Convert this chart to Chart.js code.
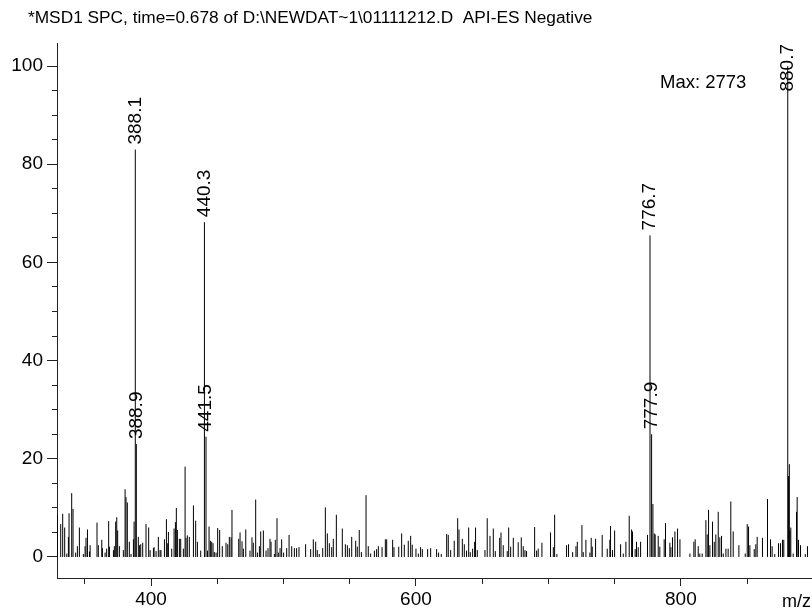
<!DOCTYPE html>
<html>
<head>
<meta charset="utf-8">
<script src="https://cdn.jsdelivr.net/npm/chart.js@4.4.1/dist/chart.umd.min.js"></script>
<style>
  html, body { margin: 0; padding: 0; background: #fff; }
  #wrap { width: 812px; height: 613px; }
</style>
</head>
<body>
<div id="wrap"><canvas id="c" width="812" height="613"></canvas></div>
<script>
// ---- data ----
const titleText = "*MSD1 SPC, time=0.678 of D:\\NEWDAT~1\\01111212.D  API-ES Negative";
const maxText = "Max: 2773";
const xAxisLabel = "m/z";

const xMajorTicks = [400, 600, 800];
const yMajorTicks = [0, 20, 40, 60, 80, 100];

// labelled peaks (m/z, relative intensity %)
const mainMz = [388.1, 388.9, 440.3, 441.5, 776.7, 777.9, 880.7];
const mainIntensity = [83.0, 23.0, 68.2, 24.5, 65.5, 25.0, 100];
const mainLabels = ["388.1", "388.9", "440.3", "441.5", "776.7", "777.9", "880.7"];

// minor peaks [m/z, relative intensity %]
const minorPeaks = [
  [329.3,8.6],[331.8,6.7],[333.3,8.8],[334.8,6.0],[336.4,0.7],[337.6,4.1],[338.1,8.9],[340.1,13.0],[341.1,9.8],[343.1,0.9],
  [344.4,2.2],[345.9,6.0],[348.9,0.6],[350.2,2.2],[350.9,3.9],[352.0,5.6],[353.5,1.1],[354.0,2.4],[359.2,7.0],[360.2,2.4],
  [362.8,3.5],[363.3,1.8],[365.3,0.9],[366.5,1.7],[368.0,7.3],[368.6,2.1],[371.6,1.4],[372.3,2.2],[373.3,7.2],[374.1,8.1],
  [374.8,5.4],[376.1,2.2],[379.1,1.4],[380.4,13.8],[381.1,12.2],[382.1,11.1],[383.6,3.1],[384.9,0.6],[386.7,3.6],[387.2,7.2],
  [390.4,4.1],[391.2,2.4],[392.2,2.6],[393.7,2.9],[396.2,6.7],[398.2,6.0],[399.3,1.4],[401.8,1.8],[402.3,2.0],[403.8,1.2],
  [405.5,4.1],[406.8,1.4],[407.5,1.4],[410.1,3.6],[411.6,7.7],[412.6,2.8],[413.1,5.1],[415.6,1.7],[417.4,5.8],[418.4,7.1],
  [419.1,10.0],[419.9,5.5],[421.4,3.7],[422.4,3.7],[424.4,1.7],[425.7,18.4],[426.4,3.9],[427.4,4.4],[428.9,4.1],[432.0,10.5],
  [433.7,7.4],[435.0,3.1],[437.5,1.3],[442.6,1.3],[443.8,6.2],[444.8,3.3],[445.8,3.1],[446.8,2.8],[447.8,1.0],[449.1,0.9],
  [450.3,5.9],[451.8,5.5],[453.8,2.2],[456.6,2.9],[457.9,2.6],[459.1,4.1],[460.4,4.0],[461.1,9.6],[466.2,3.7],[467.2,5.0],
  [468.7,3.2],[469.7,1.7],[471.5,5.6],
  [474.7,1.3],[476.2,4.0],[477.2,2.9],[479.0,11.7],[480.3,0.9],[481.8,2.2],[482.8,5.2],[484.8,5.4],[486.8,1.3],[488.3,1.8],
  [489.8,3.7],[490.6,3.1],[493.1,0.6],[493.8,3.5],[495.1,7.9],[496.1,0.9],[497.4,1.8],[498.6,3.6],[500.1,0.9],[502.4,1.8],
  [504.2,4.5],[506.2,2.2],[508.2,1.8],[509.9,1.8],[511.7,2.0],[516.7,2.6],[520.5,1.6],[522.5,3.6],[524.3,3.1],[525.5,1.4],
  [527.0,0.6],[529.6,1.8],[531.6,10.1],[533.1,4.8],[534.6,2.8],[536.4,2.0],[537.6,3.7],[539.9,8.6],[544.4,5.8],[546.7,2.6],
  [548.2,2.4],[549.7,1.8],[551.5,4.1],[554.5,3.3],[555.7,2.1],[557.2,5.5],[558.8,1.0],[562.3,12.6],[564.0,2.2],[565.8,0.7],
  [568.6,1.3],[570.3,1.6],[571.6,2.2],[574.4,2.0],[576.9,3.6],[577.9,3.6],[582.4,3.5],[583.4,2.0],[587.0,2.1],[589.2,4.8],
  [591.2,2.5],[594.2,3.3],[596.0,4.3],[597.2,2.5],[600.0,1.7],[601.8,0.7],[603.5,2.0],[604.8,1.6],[608.8,1.6],[611.1,1.8],
  [615.6,1.6],
  [617.1,0.9],[619.1,0.6],[623.2,4.7],[624.4,4.5],[626.2,1.4],[628.9,3.3],[631.5,7.9],[632.5,5.6],[635.0,3.7],[636.5,2.6],
  [638.2,1.3],[639.8,6.0],[641.0,1.0],[642.8,1.7],[644.3,3.1],[645.0,6.0],[646.3,1.4],[652.1,1.4],[653.8,7.9],[655.9,4.3],
  [658.4,5.8],[659.9,1.2],[663.2,3.9],[664.2,5.0],[665.9,2.4],[668.9,1.2],[670.0,6.0],[671.5,2.1],[673.5,3.9],[677.2,3.0],
  [679.5,4.0],[681.0,2.2],[682.3,1.4],[683.5,1.2],[689.6,6.1],[691.1,1.3],[692.3,1.7],[695.1,2.9],[701.6,5.0],[703.7,2.0],
  [704.7,8.6],[706.4,0.6],[713.7,2.4],[715.2,2.6],[718.3,1.0],[720.8,2.2],[721.8,3.1],[725.3,6.5],[726.3,1.0],[728.3,3.5],
  [731.3,0.9],[732.3,3.9],[733.1,2.1],[735.6,3.7],[740.6,4.5],[744.4,1.7],[746.4,3.5],[746.9,6.3],[748.4,1.4],[750.0,5.4],
  [754.5,2.6],[756.5,0.7],[758.5,3.1],[761.0,8.4],
  [762.8,5.6],[763.5,5.2],[765.5,1.6],[766.5,3.1],[767.8,2.0],[769.6,3.1],[774.8,4.5],[778.9,10.8],[779.9,4.8],[780.6,4.6],
  [782.9,4.3],[784.1,2.1],[787.4,3.6],[788.4,6.9],[791.7,2.9],[792.5,2.0],[793.7,4.0],[795.5,5.2],[797.5,5.8],[799.3,3.6],
  [806.8,0.7],[809.8,3.1],[810.8,3.6],[813.1,2.2],[814.3,0.7],[816.1,0.7],[818.9,7.5],[819.9,4.6],[820.9,9.6],[821.9,2.4],
  [823.9,7.2],[825.2,3.1],[826.4,4.6],[828.2,9.2],[829.4,4.0],[830.7,4.3],[832.0,0.7],[834.0,1.7],[835.7,1.7],[837.7,11.3],
  [839.5,5.2],[843.8,2.4],[848.6,0.7],[850.1,6.7],[851.1,6.2],[852.1,2.4],[855.4,1.6],[856.6,2.6],[857.6,4.1],[861.6,3.9],
  [865.4,11.8],[867.7,3.6],[868.9,2.2],[870.9,0.6],[873.7,2.8],[875.2,2.8],[876.7,3.5],[877.7,3.5],[881.3,16.5],[881.9,18.9],
  [882.3,5.4],[883.0,6.0],[884.8,0.7],[887.3,9.2],[887.8,12.2],[888.8,3.5],[890.3,2.4],[893.9,0.6],[895.6,2.2]
];

// ---- build stick (vertical line) series ----
function sticks(mzs, ints) {
  const pts = [];
  for (let i = 0; i < mzs.length; i++) {
    pts.push({x: mzs[i], y: 0});
    pts.push({x: mzs[i], y: ints[i]});
    pts.push({x: mzs[i], y: null});
  }
  return pts;
}
const minorData = sticks(minorPeaks.map(p => p[0]), minorPeaks.map(p => p[1]));
const mainData = sticks(mainMz, mainIntensity);

const FONT = "'Liberation Sans', Arial, sans-serif";

const textPlugin = {
  id: 'texts',
  afterDatasetsDraw(chart) {
    const ctx = chart.ctx;
    const xs = chart.scales.x, ys = chart.scales.y;
    const area = chart.chartArea;
    ctx.save();
    ctx.fillStyle = '#000';
    // title
    ctx.font = "17.3px " + FONT;
    ctx.textAlign = 'left';
    ctx.textBaseline = 'middle';
    ctx.fillText(titleText, 28, 18);
    // Max
    ctx.font = "18.5px " + FONT;
    ctx.fillText(maxText, 660, 83);
    // axis unit
    ctx.font = "18px " + FONT;
    ctx.textAlign = 'right';
    ctx.fillText(xAxisLabel, 811, 602);
    // peak labels
    ctx.font = "19px " + FONT;
    for (let i = 0; i < mainMz.length; i++) {
      const px = xs.getPixelForValue(mainMz[i]);
      const py = ys.getPixelForValue(mainIntensity[i]);
      const w = ctx.measureText(mainLabels[i]).width;
      let base = py - 5;
      if (base - w < area.top) base = area.top + w + 1;
      ctx.save();
      ctx.translate(px, base);
      ctx.rotate(-Math.PI / 2);
      ctx.textAlign = 'left';
      ctx.textBaseline = 'middle';
      ctx.fillText(mainLabels[i], 0, 0);
      ctx.restore();
    }
    ctx.restore();
  }
};

new Chart(document.getElementById('c'), {
  type: 'scatter',
  data: {
    datasets: [
      { data: minorData, showLine: true, spanGaps: false, borderColor: '#000', borderWidth: 1, pointRadius: 0, pointHoverRadius: 0 },
      { data: mainData, showLine: true, spanGaps: false, borderColor: '#000', borderWidth: 1, pointRadius: 0, pointHoverRadius: 0 }
    ]
  },
  options: {
    responsive: false,
    animation: false,
    devicePixelRatio: 1,
    layout: { padding: { top: 43, right: 0, left: 0, bottom: 0 } },
    plugins: { legend: { display: false }, tooltip: { enabled: false }, title: { display: false } },
    scales: {
      x: {
        type: 'linear',
        min: 329, max: 899,
        afterFit(s) { s.height = 35; },
        border: { display: true, color: '#222', width: 1 },
        grid: {
          drawOnChartArea: false, drawTicks: true, tickLength: 8, color: '#222',
          tickBorderDash: c => (c.tick && xMajorTicks.includes(c.tick.value)) ? [] : [5, 20]
        },
        ticks: {
          stepSize: 50, includeBounds: false, autoSkip: false, maxRotation: 0, padding: 2,
          color: '#000', font: { family: FONT, size: 19 },
          callback: v => xMajorTicks.includes(v) ? String(v) : ''
        }
      },
      y: {
        type: 'linear',
        min: -4.28, max: 104.7,
        afterFit(s) { s.width = 57; },
        border: { display: true, color: '#222', width: 1 },
        grid: {
          drawOnChartArea: false, drawTicks: true, tickLength: 10, color: '#222',
          tickBorderDash: c => (c.tick && yMajorTicks.includes(c.tick.value)) ? [] : [5, 5],
          tickBorderDashOffset: c => (c.tick && yMajorTicks.includes(c.tick.value)) ? 0 : 5
        },
        ticks: {
          stepSize: 5, includeBounds: false, autoSkip: false, padding: 4,
          color: '#000', font: { family: FONT, size: 19 },
          callback: v => yMajorTicks.includes(v) ? String(v) : ''
        }
      }
    }
  },
  plugins: [textPlugin]
});
</script>
</body>
</html>
